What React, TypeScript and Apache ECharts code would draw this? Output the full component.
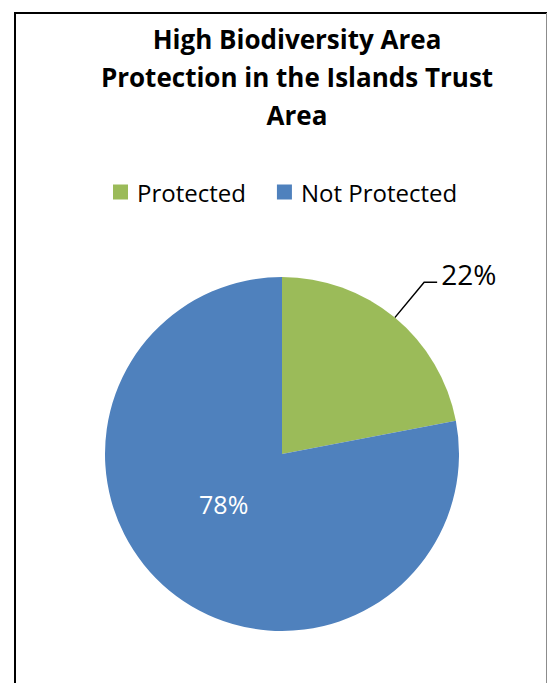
import React, { useEffect, useRef } from "react";
import * as echarts from "echarts";

const categories = ["Protected", "Not Protected"];
const values = [22, 78];
const colors = ["#9BBB59", "#4F81BD"];
const titleLines = ["High Biodiversity Area", "Protection in the Islands Trust", "Area"];

export default function App() {
  const ref = useRef<HTMLDivElement>(null);
  useEffect(() => {
    document.body.style.margin = "0";
    const chart = echarts.init(ref.current!, null, { renderer: "svg" });
    const font = "'Open Sans', sans-serif";
    chart.setOption({
      animation: false,
      backgroundColor: "#ffffff",
      title: {
        text: titleLines.join("\n"),
        left: 292,
        top: 15,
        textAlign: "center",
        textStyle: {
          fontFamily: font,
          fontWeight: "bold",
          fontSize: 26,
          lineHeight: 38,
          color: "#000000",
        },
      },
      legend: {
        data: categories,
        left: 113,
        top: 180,
        padding: 0,
        itemWidth: 15,
        itemHeight: 15,
        itemGap: 31,
        icon: "rect",
        textStyle: { fontFamily: font, fontSize: 24, color: "#000000", padding: [0, 0, 0, 4] },
      },
      graphic: [
        {
          type: "polyline",
          shape: { points: [[15, 700], [15, 13], [547, 13]] },
          style: { stroke: "#000000", lineWidth: 2, fill: null },
        },
        {
          type: "line",
          shape: { x1: 546.5, y1: 13, x2: 546.5, y2: 700 },
          style: { stroke: "#8c8c8c", lineWidth: 1 },
        },
      ],
      series: [
        {
          type: "pie",
          center: [282, 454],
          radius: 177,
          startAngle: 90,
          clockwise: true,
          color: colors,
          avoidLabelOverlap: false,
          data: categories.map((name, i) =>
            i === 0
              ? {
                  name,
                  value: values[i],
                  label: {
                    show: true,
                    position: "outside",
                    formatter: "{d}%\n ",
                    fontFamily: font,
                    fontSize: 28,
                    lineHeight: 16,
                    color: "#000000",
                    distanceToLabelLine: 4,
                  },
                  labelLine: { show: true, length: 46, length2: 13, lineStyle: { color: "#000000", width: 1.5 } },
                }
              : {
                  name,
                  value: values[i],
                  label: {
                    show: true,
                    position: "inside",
                    formatter: "{d}%\n ",
                    fontFamily: font,
                    fontSize: 25,
                    lineHeight: 42,
                    color: "#ffffff",
                  },
                  labelLine: { show: false },
                }
          ),
          emphasis: { disabled: true },
        },
      ],
    });
    return () => chart.dispose();
  }, []);
  return <div ref={ref} style={{ position: "absolute", left: 0, top: 0, width: 548, height: 683 }} />;
}
